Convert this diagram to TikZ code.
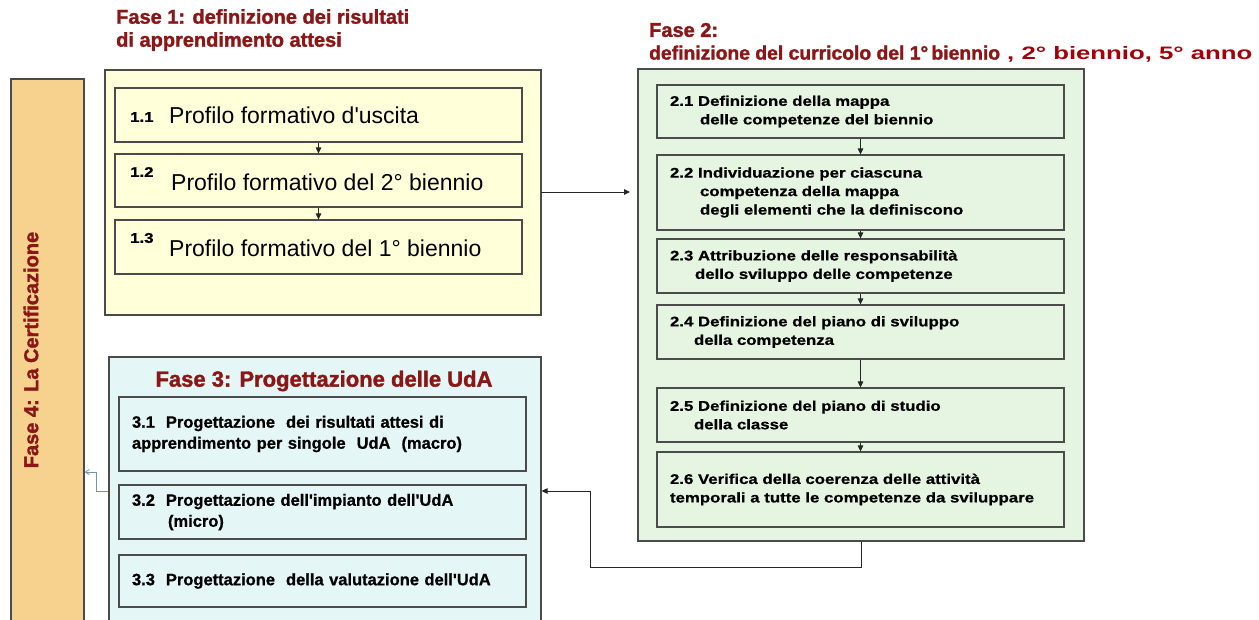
\documentclass[tikz,border=0pt]{standalone}
\usepackage{fontspec}
\setmainfont{Liberation Sans}
\newfontfamily\titf[BoldFeatures={FakeBold=1.5}]{Liberation Sans}
\newfontfamily\itemf[BoldFeatures={FakeBold=0.8}, FakeStretch=1.2]{Liberation Sans}
\newfontfamily\itemg[BoldFeatures={FakeBold=0.8}]{Liberation Sans}
\newfontfamily\numf[BoldFeatures={FakeBold=1}, FakeStretch=1.2]{Liberation Sans}
\newfontfamily\widef[FakeStretch=1.43]{Liberation Sans}
\usetikzlibrary{arrows.meta}
\definecolor{titlered}{RGB}{140,22,22}
\definecolor{brightred}{RGB}{165,0,10}
\definecolor{yellowbg}{RGB}{255,255,218}
\definecolor{greenbg}{RGB}{230,245,226}
\definecolor{bluebg}{RGB}{228,246,246}
\definecolor{orangebg}{RGB}{246,210,142}
\definecolor{edgecol}{RGB}{75,75,75}
\definecolor{linkblue}{RGB}{110,150,175}
\tikzset{
  phasebox/.style={draw=edgecol, line width=1.1pt, inner sep=0pt},
  itembox/.style={draw=edgecol, line width=1.1pt, inner sep=0pt},
  itemtext/.style={align=left, inner sep=0pt, text width=381pt, font=\itemf\bfseries\fontsize{14}{18.5}\selectfont},
  itemtextc/.style={align=left, inner sep=0pt, text width=385pt, font=\itemg\bfseries\fontsize{16.5}{21}\selectfont},
  arialtext/.style={inner sep=0pt, anchor=west, font=\fontsize{23}{27}\selectfont},
  numlabel/.style={inner sep=0pt, anchor=west, font=\numf\bfseries\fontsize{14}{16}\selectfont},
  titletext/.style={inner sep=0pt, text=titlered, font=\titf\bfseries\fontsize{20}{23}\selectfont, align=left},
  arr/.style={-{Triangle[length=6pt,width=5.5pt]}, line width=0.9pt, draw=black!85},
}
\begin{document}
\begin{tikzpicture}[x=1pt,y=-1pt]
\useasboundingbox[fill=white] (0,0) rectangle (1259,619);

% Fase 4 bar
\node[phasebox, fill=orangebg, minimum width=73pt, minimum height=560pt] (f4) at (47.5,359) {};
\node[titletext] (f4t) at (31,350) [rotate=90] {Fase 4: La Certificazione};

% Fase 1
\node[titletext, anchor=north west] (f1t) at (116,9) {Fase 1: definizione dei risultati\\di apprendimento attesi};
\node[phasebox, fill=yellowbg, minimum width=436pt, minimum height=245pt] (f1) at (323,192.5) {};
\node[itembox, fill=yellowbg, minimum width=407pt, minimum height=54pt] (b11) at (318.5,115) {};
\node[itembox, fill=yellowbg, minimum width=407pt, minimum height=53pt] (b12) at (318.5,180.5) {};
\node[itembox, fill=yellowbg, minimum width=407pt, minimum height=54pt] (b13) at (318.5,247) {};
\node[numlabel] (n11) at (130,117) {1.1};
\node[numlabel] (n12) at (130,172) {1.2};
\node[numlabel] (n13) at (130,238) {1.3};
\node[arialtext] (t11) at (169,115) {Profilo formativo d\textquotesingle uscita};
\node[arialtext] (t12) at (171,182) {Profilo formativo del 2° biennio};
\node[arialtext] (t13) at (169,248) {Profilo formativo del 1° biennio};
\draw[arr] (b11) -- (b12);
\draw[arr] (b12) -- (b13);

% Fase 2
\node[titletext, anchor=west] (f2t) at (649,30) {Fase 2:};
\node[inner sep=0pt, anchor=west] (f2u) at (649,54) {{\titf\bfseries\fontsize{19.3}{23}\selectfont\color{titlered}definizione del curricolo del 1°\,biennio}{\widef\bfseries\fontsize{18}{22}\selectfont\color{brightred}\ , 2° biennio, 5° anno}};
\node[phasebox, fill=greenbg, minimum width=446pt, minimum height=472pt] (f2) at (861,305) {};
\node[itembox, fill=greenbg, minimum width=407pt, minimum height=53pt] (b21) at (860.5,111.5) {};
\node[itembox, fill=greenbg, minimum width=407pt, minimum height=75pt] (b22) at (860.5,192.5) {};
\node[itembox, fill=greenbg, minimum width=407pt, minimum height=54pt] (b23) at (860.5,266) {};
\node[itembox, fill=greenbg, minimum width=407pt, minimum height=54pt] (b24) at (860.5,332) {};
\node[itembox, fill=greenbg, minimum width=407pt, minimum height=54pt] (b25) at (860.5,415) {};
\node[itembox, fill=greenbg, minimum width=407pt, minimum height=75pt] (b26) at (860.5,489.5) {};
\node[itemtext] (t21) at (b21) {2.1 Definizione della mappa\\\hspace*{30pt}delle competenze del biennio};
\node[itemtext] (t22) at (b22) {2.2 Individuazione per ciascuna\\\hspace*{30pt}competenza della mappa\\\hspace*{30pt}degli elementi che la definiscono};
\node[itemtext] (t23) at (b23) {2.3 Attribuzione delle responsabilità\\\hspace*{25pt}dello sviluppo delle competenze};
\node[itemtext] (t24) at (b24) {2.4 Definizione del piano di sviluppo\\\hspace*{24pt}della competenza};
\node[itemtext] (t25) at (b25) {2.5 Definizione del piano di studio\\\hspace*{24pt}della classe};
\node[itemtext] (t26) at (b26) {2.6 Verifica della coerenza delle attività\\temporali a tutte le competenze da sviluppare};
\draw[arr] (b21) -- (b22);
\draw[arr] (b22) -- (b23);
\draw[arr] (b23) -- (b24);
\draw[arr] (b24) -- (b25);
\draw[arr] (b25) -- (b26);

% Fase 3
\node[phasebox, fill=bluebg, minimum width=432pt, minimum height=273pt] (f3) at (325,493.5) {};
\node[titletext, font=\titf\bfseries\fontsize{22}{26}\selectfont] (f3t) at (324,381) {Fase 3: Progettazione delle UdA};
\node[itembox, fill=bluebg, minimum width=407pt, minimum height=74pt] (b31) at (322.5,434) {};
\node[itembox, fill=bluebg, minimum width=407pt, minimum height=54pt] (b32) at (322.5,512) {};
\node[itembox, fill=bluebg, minimum width=407pt, minimum height=52pt] (b33) at (322.5,581) {};
\node[itemtextc] (t31) at ([xshift=2pt]b31) {3.1\ \ Progettazione\ \ dei risultati attesi di\\apprendimento per singole\ \ UdA\ \ (macro)};
\node[itemtextc] (t32) at ([xshift=2pt]b32) {3.2\ \ Progettazione dell\textquotesingle impianto dell\textquotesingle UdA\\\hspace*{36pt}(micro)};
\node[itemtextc] (t33) at ([xshift=2pt]b33) {3.3\ \ Progettazione\ \ della valutazione dell\textquotesingle UdA};

% connectors between phases
\coordinate (a1) at (541,192);
\coordinate (a2) at (630,192);
\draw[arr] (a1) -- (a2);
\coordinate (c1) at (590,567);
\coordinate (c2) at (590,491);
\draw[arr] (f2.south) |- (c1) -- (c2) -- (f3.east |- c2);
\coordinate (d1) at (96,491);
\coordinate (d2) at (96,472);
\draw[-{Straight Barb[length=4pt,width=5pt]}, draw=linkblue, line width=0.8pt] (f3.west |- d1) -- (d1) -- (d2) -- (f4.east |- d2);
\end{tikzpicture}
\end{document}
